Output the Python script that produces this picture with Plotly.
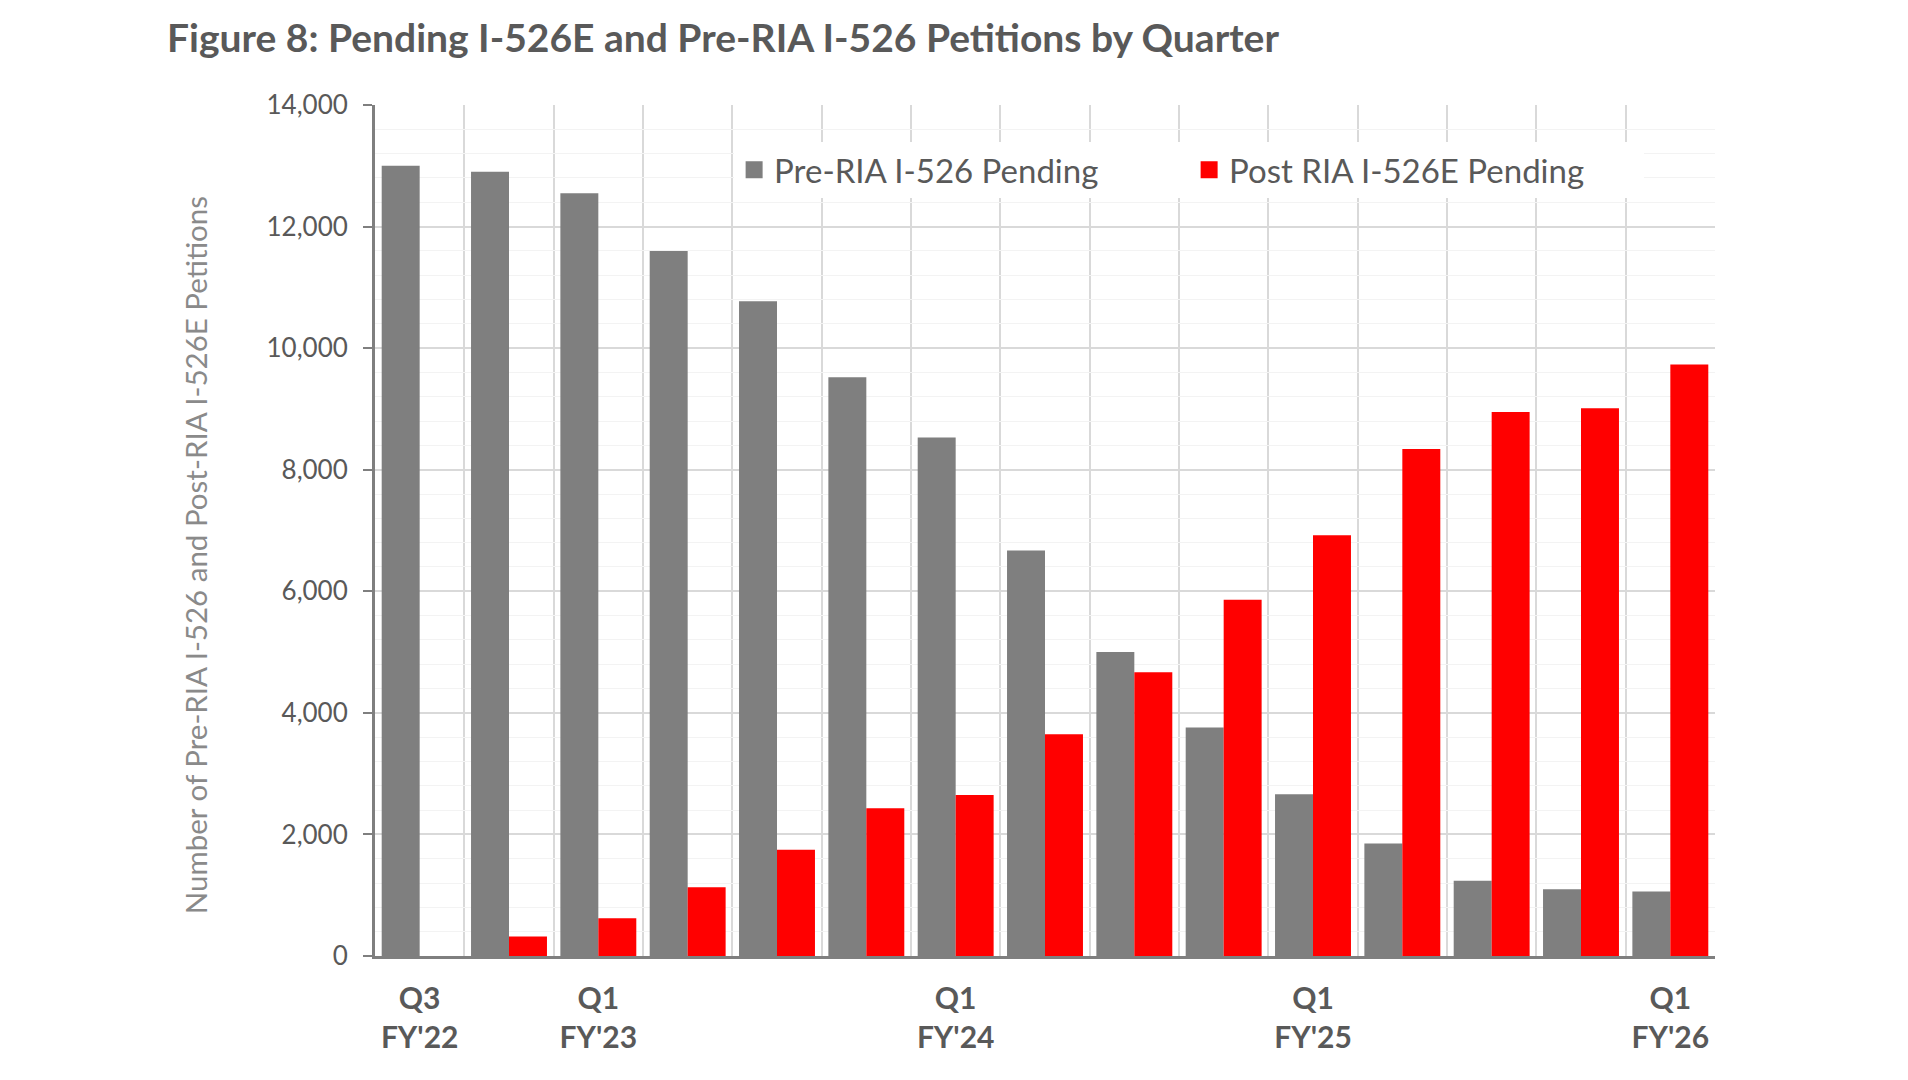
import plotly.graph_objects as go

quarters = ["Q3 FY'22", "Q4 FY'22", "Q1 FY'23", "Q2 FY'23", "Q3 FY'23", "Q4 FY'23",
            "Q1 FY'24", "Q2 FY'24", "Q3 FY'24", "Q4 FY'24", "Q1 FY'25", "Q2 FY'25",
            "Q3 FY'25", "Q4 FY'25", "Q1 FY'26"]
pre_ria = [13000, 12900, 12550, 11600, 10770, 9520, 8530, 6670, 5000, 3760, 2660, 1850, 1240, 1100, 1060]
post_ria = [0, 320, 620, 1130, 1750, 2430, 2650, 3650, 4670, 5860, 6920, 8340, 8950, 9010, 9730]
tick_idx = [0, 2, 6, 10, 14]
tick_text = ["Q3<br>FY'22", "Q1<br>FY'23", "Q1<br>FY'24", "Q1<br>FY'25", "Q1<br>FY'26"]
series_names = ["Pre-RIA I-526 Pending", "Post RIA I-526E Pending"]
series_colors = ["#7f7f7f", "#ff0000"]

x = list(range(len(quarters)))
FONT = "Lato"

fig = go.Figure()
for vals, name, col in zip([pre_ria, post_ria], series_names, series_colors):
    fig.add_trace(go.Bar(x=x, y=vals, name=name, showlegend=False,
                         marker=dict(color=col, line=dict(width=0)),
                         hovertext=quarters))
# legend entries with larger square swatches
for name, col in zip(series_names, series_colors):
    fig.add_trace(go.Scatter(x=[None], y=[None], mode="markers", name=name,
                             marker=dict(symbol="square", size=15, color=col,
                                         line=dict(color=col, width=2))))

fig.update_layout(
    width=1908, height=1080,
    margin=dict(l=375, r=193, t=105, b=124),
    paper_bgcolor="white", plot_bgcolor="white",
    barmode="group", bargap=0.15, bargroupgap=0,
    font=dict(family=FONT, color="#595959"),
    title=dict(text="<b>Figure 8: Pending I-526E and Pre-RIA I-526 Petitions by Quarter</b>",
               x=167/1908, xref="container", xanchor="left",
               y=1-38/1080, yref="container", yanchor="middle",
               font=dict(family=FONT, size=39, color="#595959")),
    legend=dict(orientation="h", x=0.268, xanchor="left", y=0.924, yanchor="middle",
                bgcolor="white", font=dict(family=FONT, size=33, color="#595959"),
                entrywidth=410, entrywidthmode="pixels", itemsizing="trace",
                itemwidth=30),
    showlegend=True,
    annotations=[dict(text="Number of Pre-RIA I-526 and Post-RIA I-526E Petitions",
                      textangle=-90, xref="paper", yref="paper",
                      x=-0.1343, y=0.471, xanchor="center", yanchor="middle",
                      showarrow=False,
                      font=dict(family=FONT, size=29.5, color="#8a8a8a"))],
)

fig.update_xaxes(
    range=[-0.5, len(quarters) - 0.5],
    tickmode="array", tickvals=tick_idx, ticktext=[f"<b>{t}</b>" for t in tick_text],
    tickfont=dict(family=FONT, size=30, color="#595959"),
    showgrid=False, zeroline=False,
    showline=True, linecolor="#7f7f7f", linewidth=3,
    ticks="", ticklabelstandoff=14,
    minor=dict(tickmode="array", tickvals=[i + 0.5 for i in range(len(quarters))],
               showgrid=True, gridcolor="#d9d9d9", gridwidth=1.5, ticks=""),
)

fig.update_yaxes(
    range=[0, 14000], dtick=2000, tick0=0, tickformat=",",
    tickfont=dict(family=FONT, size=26, color="#595959"),
    showgrid=True, gridcolor="#d9d9d9", gridwidth=1.5,
    zeroline=False,
    showline=True, linecolor="#7f7f7f", linewidth=3,
    ticks="outside", ticklen=9, tickcolor="#7f7f7f", tickwidth=2,
    ticklabelstandoff=10,
    minor=dict(dtick=400, tick0=0, showgrid=True, gridcolor="#f3f3f3", gridwidth=1, ticks=""),
)

fig.write_html("out.html")
